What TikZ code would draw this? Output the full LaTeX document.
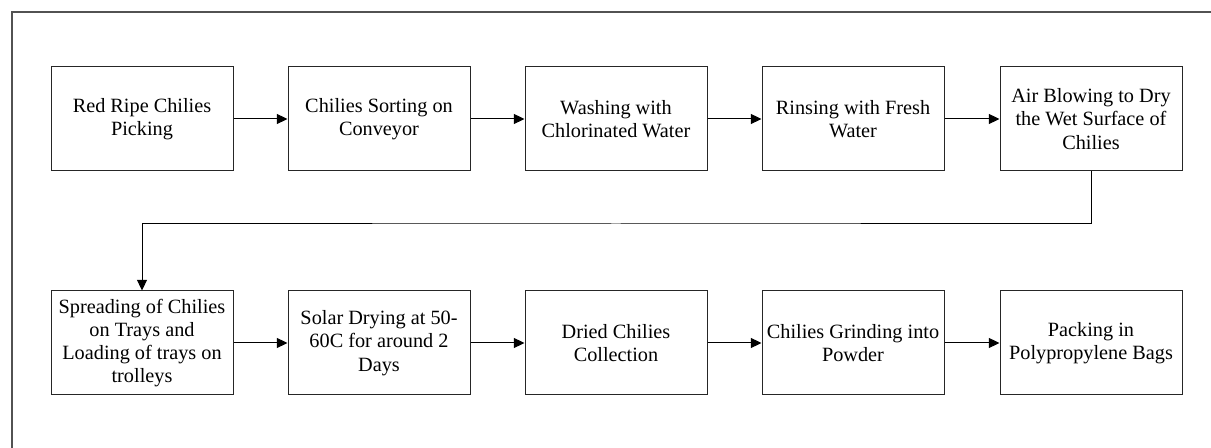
\documentclass[tikz,border=0pt]{standalone}
\usepackage{fontspec}
\setmainfont{Liberation Serif}
\usetikzlibrary{arrows.meta}
\begin{document}
\begin{tikzpicture}[x=0.75pt,y=-0.75pt,
  stepbox/.style={draw=black!85, line width=0.75pt, minimum width=182*0.75pt, minimum height=104*0.75pt,
    inner sep=0pt, align=center, font=\fontsize{15.2}{17.4}\selectfont},
  flow/.style={draw=black, line width=0.75pt, -{Triangle[length=8pt,width=7.5pt]}},
  frame/.style={draw=black!68, line width=1.6pt}]
\useasboundingbox (0,0) rectangle (1211,448);
\draw[frame] (12,460) -- (12,12) -- (1220,12);
\node[stepbox] (n1) at (142,119) {Red Ripe Chilies\\Picking};
\node[stepbox] (n2) at (379,119) {Chilies Sorting on\\Conveyor};
\node[stepbox] (n3) at (616,119) {Washing with\\Chlorinated Water};
\node[stepbox] (n4) at (853,119) {Rinsing with Fresh\\Water};
\node[stepbox] (n5) at (1091,119) {Air Blowing to Dry\\the Wet Surface of\\Chilies};
\node[stepbox] (n6) at (142,343) {Spreading of Chilies\\on Trays and\\Loading of trays on\\trolleys};
\node[stepbox] (n7) at (379,343) {Solar Drying at 50-\\60C for around 2\\Days};
\node[stepbox] (n8) at (616,343) {Dried Chilies\\Collection};
\node[stepbox] (n9) at (853,343) {Chilies Grinding into\\Powder};
\node[stepbox] (n10) at (1091,343) {Packing in\\Polypropylene Bags};
\coordinate (mid) at (616,224);
\draw[flow] (n1) -- (n2);
\draw[flow] (n2) -- (n3);
\draw[flow] (n3) -- (n4);
\draw[flow] (n4) -- (n5);
\draw[flow] (n5.south) |- (mid) -| (n6.north);
\draw[flow] (n6) -- (n7);
\draw[flow] (n7) -- (n8);
\draw[flow] (n8) -- (n9);
\draw[flow] (n9) -- (n10);
\end{tikzpicture}
\end{document}
